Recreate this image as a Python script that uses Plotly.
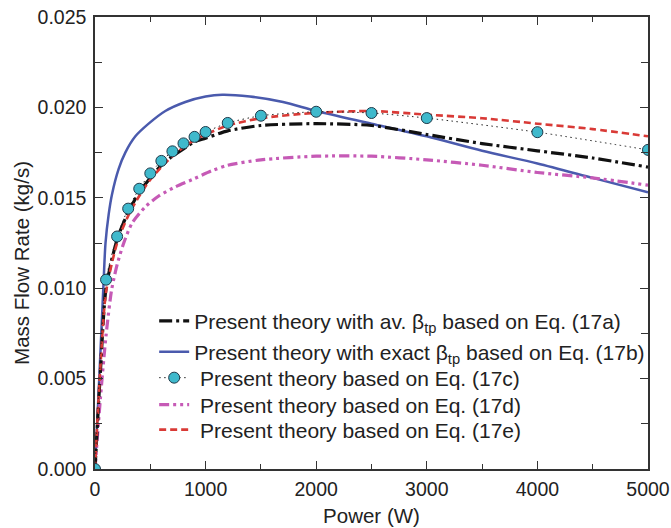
import plotly.graph_objects as go

# ---- data ----
x_a = [0, 50, 100, 200, 300, 400, 500, 600, 700, 800, 900, 1000, 1200, 1500, 2000, 2500, 3000, 3500, 4000, 4500, 5000]
y_a = [0, 0.0055, 0.0100, 0.0127, 0.0142, 0.0153, 0.0161, 0.0168, 0.0173, 0.0177, 0.0181, 0.0183, 0.0187, 0.0190, 0.0191, 0.0190, 0.0185, 0.0180, 0.0176, 0.0172, 0.0167]

x_b = [0, 40, 78, 95, 124, 154, 214, 274, 365, 485, 636, 817, 1000, 1150, 1400, 1700, 2000, 2500, 3000, 3500, 4000, 4500, 5000]
y_b = [0, 0.0052, 0.0104, 0.0125, 0.0141, 0.0152, 0.0166, 0.0175, 0.0184, 0.0191, 0.0198, 0.0203, 0.0206, 0.0207, 0.0206, 0.0203, 0.0198, 0.0191, 0.0184, 0.0176, 0.0169, 0.0161, 0.0153]

x_c = [0, 100, 200, 300, 400, 500, 600, 700, 800, 900, 1000, 1200, 1500, 2000, 2500, 3000, 4000, 5000]
y_c = [0, 0.01047, 0.01286, 0.01440, 0.01550, 0.01635, 0.01704, 0.01757, 0.01801, 0.01837, 0.01864, 0.01914, 0.01954, 0.01976, 0.01969, 0.01941, 0.01863, 0.01765]

x_d = [0, 50, 100, 150, 200, 260, 335, 455, 576, 726, 877, 1058, 1200, 1500, 2000, 2500, 3000, 3500, 4000, 4500, 5000]
y_d = [0, 0.0040, 0.0074, 0.0099, 0.0113, 0.0125, 0.0136, 0.0145, 0.0151, 0.0156, 0.0160, 0.0165, 0.0168, 0.0171, 0.0173, 0.0173, 0.0171, 0.0168, 0.0164, 0.0161, 0.0157]

x_e = [0, 50, 100, 200, 300, 400, 500, 600, 700, 800, 900, 1000, 1200, 1500, 2000, 2500, 3000, 3500, 4000, 4500, 5000]
y_e = [0, 0.0058, 0.0098, 0.0125, 0.0140, 0.0151, 0.0160, 0.0167, 0.0173, 0.0178, 0.0182, 0.0185, 0.0190, 0.0194, 0.0197, 0.0198, 0.0196, 0.0194, 0.0191, 0.0188, 0.0184]

names = [
    "Present theory with av. β<sub>tp</sub> based on Eq. (17a)",
    "Present theory with exact β<sub>tp</sub> based on Eq. (17b)",
    "\u00a0Present theory based on Eq. (17c)",
    "\u00a0Present theory based on Eq. (17d)",
    "\u00a0Present theory based on Eq. (17e)",
]

FONT = "Liberation Sans, Arial, Helvetica, sans-serif"

fig = go.Figure()
fig.add_trace(go.Scatter(x=x_b, y=y_b, mode="lines", name=names[1], legend="legend2",
                         line=dict(color="#4a5aad", width=2.5, shape="spline", smoothing=0.8)))
fig.add_trace(go.Scatter(x=x_d, y=y_d, mode="lines", name=names[3], legend="legend4",
                         line=dict(color="#c65ab6", width=3.2, dash="10px,4px,3px,4px,3px,4px",
                                   shape="spline", smoothing=0.7)))
fig.add_trace(go.Scatter(x=x_a, y=y_a, mode="lines", name=names[0], legend="legend",
                         line=dict(color="#111111", width=3.2, dash="13px,4px,3px,4px",
                                   shape="spline", smoothing=0.7)))
fig.add_trace(go.Scatter(x=x_e, y=y_e, mode="lines", name=names[4], legend="legend5",
                         line=dict(color="#d93a36", width=2.6, dash="7px,4px",
                                   shape="spline", smoothing=0.7)))
fig.add_trace(go.Scatter(x=x_c, y=y_c, mode="lines+markers", name=names[2], legend="legend3",
                         line=dict(color="#222222", width=1, dash="1.5px,3.5px", shape="spline", smoothing=0.6),
                         marker=dict(size=11, color="#3fb9cc", line=dict(color="#1e3a4a", width=1))))

axis_common = dict(
    showline=True, linecolor="#333333", linewidth=1.5, mirror="ticks",
    ticks="inside", ticklen=8, tickwidth=1.3, tickcolor="#333333",
    showgrid=False, zeroline=False,
    tickfont=dict(family=FONT, size=19.5, color="#222222"),
)

fig.update_xaxes(range=[0, 5000], dtick=1000, tick0=0,
                 minor=dict(dtick=500, ticks="inside", ticklen=5, tickwidth=1.3, tickcolor="#333333"),
                 title=dict(text="Power (W)", font=dict(family=FONT, size=20.5, color="#222222"), standoff=9),
                 ticklabelstandoff=2,
                 **axis_common)
fig.update_yaxes(range=[0, 0.025], dtick=0.005, tick0=0, tickformat=".3f",
                 minor=dict(dtick=0.0025, ticks="inside", ticklen=7, tickwidth=1.3, tickcolor="#333333"),
                 ticklabelstandoff=3,
                 **axis_common)

# y-axis title placed as a rotated annotation (sits slightly below the axis centre)
fig.add_annotation(text="Mass Flow Rate (kg/s)", textangle=-90, showarrow=False,
                   xref="paper", yref="paper", x=-0.132, y=0.456,
                   xanchor="center", yanchor="middle",
                   font=dict(family=FONT, size=20.5, color="#222222"))

leg_x = 0.107
leg_ys = [0.3270, 0.2588, 0.2013, 0.1416, 0.0863]
leg_common = dict(xanchor="left", yanchor="middle", bgcolor="rgba(0,0,0,0)", borderwidth=0,
                  font=dict(family=FONT, size=21, color="#222222"), visible=True)

fig.update_layout(
    width=671, height=528,
    showlegend=True,
    margin=dict(l=95, r=23, t=17, b=59, autoexpand=False),
    paper_bgcolor="white", plot_bgcolor="white",
    font=dict(family=FONT, color="#222222"),
    legend=dict(x=leg_x, y=leg_ys[0], **leg_common),
    legend2=dict(x=leg_x, y=leg_ys[1], **leg_common),
    legend3=dict(x=leg_x, y=leg_ys[2], **leg_common),
    legend4=dict(x=leg_x, y=leg_ys[3], **leg_common),
    legend5=dict(x=leg_x, y=leg_ys[4], **leg_common),
)

fig.write_html("out.html")
